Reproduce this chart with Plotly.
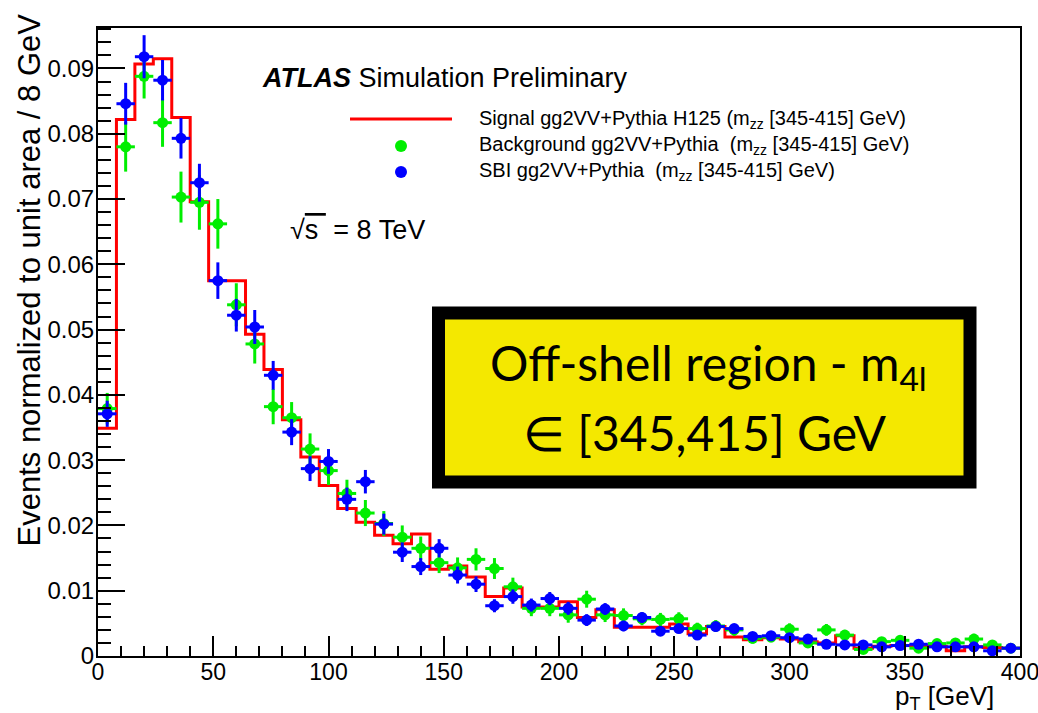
import plotly.graph_objects as go

# ---------------- data ----------------
BIN_WIDTH = 8
bin_low = list(range(0, 400, BIN_WIDTH))
bin_edges = bin_low + [400]
bin_centers = [b + BIN_WIDTH / 2 for b in bin_low]

signal = [0.0349, 0.0822, 0.0907, 0.0915, 0.0825, 0.0696, 0.0575, 0.0575, 0.0493, 0.0439,
          0.0362, 0.0305, 0.0261, 0.0226, 0.0205, 0.0185, 0.0172, 0.0187, 0.0133, 0.0138,
          0.0121, 0.0091, 0.0104, 0.0075, 0.0075, 0.0083, 0.0059, 0.0071, 0.0044, 0.0044,
          0.0044, 0.0049, 0.0034, 0.0045, 0.0029, 0.0025, 0.0028, 0.0026, 0.0022, 0.0020,
          0.0031, 0.0012, 0.0015, 0.0016, 0.0016, 0.0015, 0.0008, 0.0014, 0.0013, 0.0012]

background = [0.0379, 0.0780, 0.0888, 0.0817, 0.0703, 0.0695, 0.0662, 0.0538, 0.0478, 0.0382,
              0.0365, 0.0317, 0.0284, 0.0249, 0.0219, 0.0203, 0.0182, 0.0165, 0.0143, 0.0135,
              0.0148, 0.0134, 0.0106, 0.0073, 0.0073, 0.0063, 0.0087, 0.0063, 0.0062, 0.0057,
              0.0056, 0.0057, 0.0042, 0.0046, 0.0040, 0.0027, 0.0029, 0.0041, 0.0020, 0.0040,
              0.0032, 0.0010, 0.0022, 0.0024, 0.0012, 0.0019, 0.0020, 0.0026, 0.0017, 0.0012]

background_err = [0.0024, 0.0038, 0.0034, 0.0037, 0.0039, 0.0042, 0.0038, 0.0033, 0.0030, 0.0027,
                  0.0024, 0.0024, 0.0022, 0.0021, 0.0020, 0.0019, 0.0018, 0.0018, 0.0016, 0.0016,
                  0.0017, 0.0016, 0.0014, 0.0012, 0.0012, 0.0012, 0.0013, 0.0011, 0.0011, 0.0010,
                  0.0010, 0.0010, 0.0009, 0.0009, 0.0009, 0.0008, 0.0008, 0.0009, 0.0007, 0.0009,
                  0.0008, 0.0006, 0.0007, 0.0007, 0.0006, 0.0007, 0.0007, 0.0008, 0.0006, 0.0006]

sbi = [0.0371, 0.0846, 0.0918, 0.0882, 0.0793, 0.0725, 0.0575, 0.0522, 0.0504, 0.0430,
       0.0343, 0.0287, 0.0298, 0.0240, 0.0267, 0.0202, 0.0159, 0.0137, 0.0165, 0.0124,
       0.0110, 0.0077, 0.0091, 0.0078, 0.0088, 0.0073, 0.0055, 0.0072, 0.0046, 0.0059,
       0.0038, 0.0042, 0.0032, 0.0045, 0.0042, 0.0030, 0.0031, 0.0028, 0.0026, 0.0018,
       0.0017, 0.0017, 0.0014, 0.0016, 0.0018, 0.0014, 0.0014, 0.0014, 0.0008, 0.0012]

sbi_err = [0.0020, 0.0032, 0.0033, 0.0031, 0.0031, 0.0029, 0.0028, 0.0025, 0.0026, 0.0022,
           0.0020, 0.0019, 0.0019, 0.0018, 0.0018, 0.0016, 0.0015, 0.0013, 0.0014, 0.0013,
           0.0012, 0.0010, 0.0011, 0.0010, 0.0010, 0.0010, 0.0009, 0.0009, 0.0008, 0.0008,
           0.0007, 0.0007, 0.0007, 0.0007, 0.0007, 0.0006, 0.0006, 0.0006, 0.0006, 0.0006,
           0.0006, 0.0006, 0.0006, 0.0006, 0.0006, 0.0006, 0.0006, 0.0006, 0.0006, 0.0006]

x_ticks = [0, 50, 100, 150, 200, 250, 300, 350, 400]
y_ticks = [0, 0.01, 0.02, 0.03, 0.04, 0.05, 0.06, 0.07, 0.08, 0.09]

legend_labels = [
    "Signal gg2VV+Pythia H125 (m<sub>zz</sub> [345-415] GeV)",
    "Background gg2VV+Pythia  (m<sub>zz</sub> [345-415] GeV)",
    "SBI gg2VV+Pythia  (m<sub>zz</sub> [345-415] GeV)",
]

# ---------------- figure ----------------
FONT = "Liberation Sans, Arial, Helvetica, sans-serif"
RED = "#ff0000"
GREEN = "#00ee00"
BLUE = "#0000ff"

fig = go.Figure()

fig.add_trace(go.Scatter(
    x=bin_edges, y=signal + [signal[-1]], mode="lines",
    line=dict(color=RED, width=3, shape="hv"), showlegend=False, hoverinfo="skip"))

fig.add_trace(go.Scatter(
    x=bin_centers, y=background, mode="markers",
    marker=dict(color=GREEN, size=11),
    error_y=dict(type="data", array=background_err, color=GREEN, thickness=3, width=0),
    error_x=dict(type="constant", value=BIN_WIDTH / 2, color=GREEN, thickness=3, width=0),
    showlegend=False))

fig.add_trace(go.Scatter(
    x=bin_centers, y=sbi, mode="markers",
    marker=dict(color=BLUE, size=11),
    error_y=dict(type="data", array=sbi_err, color=BLUE, thickness=3, width=0),
    error_x=dict(type="constant", value=BIN_WIDTH / 2, color=BLUE, thickness=3, width=0),
    showlegend=False))

W, H = 1038, 713
L, R, T, B = 98, 18, 28, 57
PW, PH = W - L - R, H - T - B


def px(x):
    return (x - L) / PW


def py(y):
    return (H - B - y) / PH


fig.update_layout(
    width=W, height=H,
    margin=dict(l=L, r=R, t=T, b=B, autoexpand=False),
    paper_bgcolor="white", plot_bgcolor="white",
    font=dict(family=FONT, color="black"),
    xaxis=dict(range=[0, 400], tickvals=x_ticks, ticks="inside", ticklen=20, tickwidth=1.5,
               tickcolor="black", showline=True, linecolor="black", linewidth=2, mirror=True,
               showgrid=False, zeroline=False, tickfont=dict(size=23, family=FONT),
               ticklabeloverflow="allow", automargin=False, ticklabelstandoff=-6,
               minor=dict(dtick=10, ticks="inside", ticklen=10, tickwidth=1.5, tickcolor="black", showgrid=False)),
    yaxis=dict(range=[0, 0.0962], tickvals=y_ticks, ticks="inside", ticklen=27, tickwidth=1.5,
               tickcolor="black", showline=True, linecolor="black", linewidth=2, mirror=True,
               showgrid=False, zeroline=False, tickfont=dict(size=24, family=FONT),
               ticklabeloverflow="allow", automargin=False, ticklabelstandoff=-3,
               minor=dict(dtick=0.002, ticks="inside", ticklen=13, tickwidth=1.5, tickcolor="black", showgrid=False)),
)

annotations = [
    dict(text="Events normalized to unit area / 8 GeV", textangle=-90, xref="paper", yref="paper",
         x=px(29), y=py(12), xanchor="center", yanchor="top", showarrow=False,
         font=dict(size=31, family=FONT)),
    dict(text="p<sub>T</sub> [GeV]", xref="paper", yref="paper", x=px(996), y=py(697),
         xanchor="right", yanchor="middle", showarrow=False, font=dict(size=26, family=FONT)),
    dict(text="<b><i>ATLAS</i></b> Simulation Preliminary", xref="paper", yref="paper",
         x=px(260), y=py(78), xanchor="left", yanchor="middle", showarrow=False,
         font=dict(size=27, family=FONT)),
    dict(text="√<span style='text-decoration:overline'>s </span> = 8 TeV", xref="paper", yref="paper",
         x=px(288), y=py(230), xanchor="left", yanchor="middle", showarrow=False,
         font=dict(size=27, family=FONT)),
    dict(text="Off-shell region - m<sub>4l</sub>", xref="paper", yref="paper", x=px(708), y=py(366),
         xanchor="center", yanchor="middle", showarrow=False, font=dict(size=48, family="Lato")),
    dict(text="∈ [345,415] GeV", xref="paper", yref="paper", x=px(704), y=py(432),
         xanchor="center", yanchor="middle", showarrow=False, font=dict(size=48, family="Lato")),
]
legend_y = [119, 146, 172]
for lab, ly in zip(legend_labels, legend_y):
    annotations.append(dict(text=lab, xref="paper", yref="paper", x=px(477), y=py(ly),
                            xanchor="left", yanchor="middle", showarrow=False,
                            font=dict(size=20, family=FONT)))
fig.update_layout(annotations=annotations)

shapes = [
    # label box
    dict(type="rect", xref="paper", yref="paper", x0=px(438.5), x1=px(970), y0=py(482), y1=py(313),
         line=dict(color="black", width=13), fillcolor="#f4e800", layer="above"),
    # legend symbols
    dict(type="line", xref="paper", yref="paper", x0=px(350), x1=px(452), y0=py(119), y1=py(119),
         line=dict(color=RED, width=3)),
    dict(type="circle", xref="paper", yref="paper", xsizemode="pixel", ysizemode="pixel",
         xanchor=px(401), yanchor=py(146), x0=-6, x1=6, y0=-6, y1=6,
         line=dict(width=0), fillcolor=GREEN),
    dict(type="circle", xref="paper", yref="paper", xsizemode="pixel", ysizemode="pixel",
         xanchor=px(401), yanchor=py(172), x0=-6, x1=6, y0=-6, y1=6,
         line=dict(width=0), fillcolor=BLUE),
]
fig.update_layout(shapes=shapes)

fig.write_html("out.html")
